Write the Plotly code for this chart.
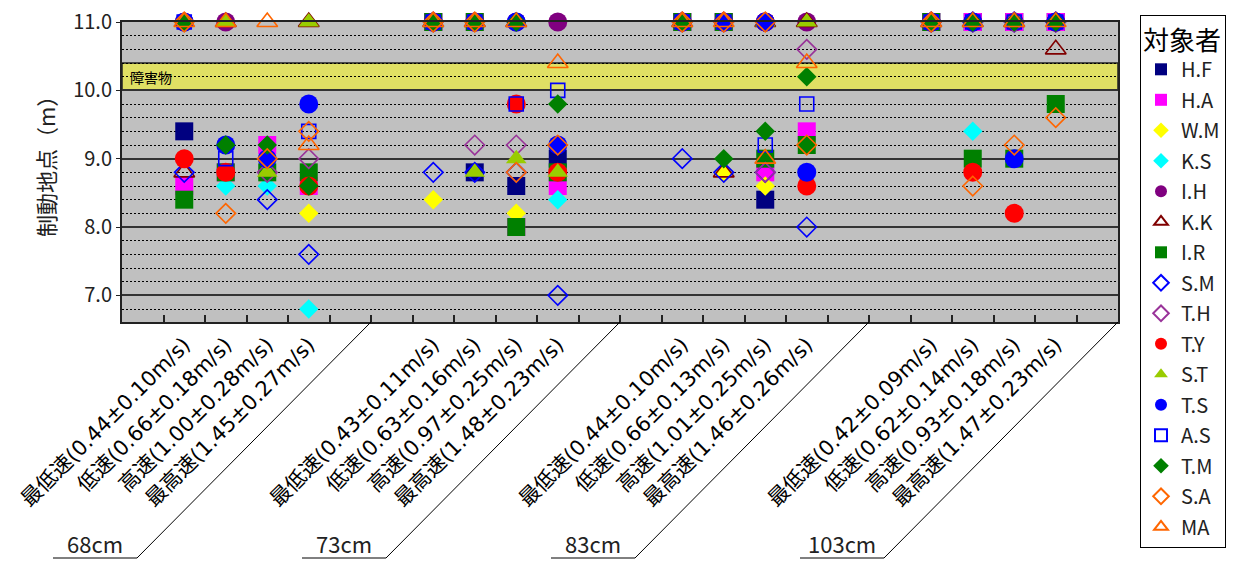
import plotly.graph_objects as go

# ---------------- data ----------------
groups = ["68cm", "73cm", "83cm", "103cm"]
speed_labels = [
    "最低速(0.44±0.10m/s)", "低速(0.66±0.18m/s)", "高速(1.00±0.28m/s)", "最高速(1.45±0.27m/s)",
    "最低速(0.43±0.11m/s)", "低速(0.63±0.16m/s)", "高速(0.97±0.25m/s)", "最高速(1.48±0.23m/s)",
    "最低速(0.44±0.10m/s)", "低速(0.66±0.13m/s)", "高速(1.01±0.25m/s)", "最高速(1.46±0.26m/s)",
    "最低速(0.42±0.09m/s)", "低速(0.62±0.14m/s)", "高速(0.93±0.18m/s)", "最高速(1.47±0.23m/s)",
]
N = None
HF = [9.4, N, N, N, 11, 8.8, 8.6, 9.0, 11, 11, 8.4, N, 11, 11, 11, 11]
HA = [8.6, 8.8, 9.2, 8.6, 11, 11, 8.0, 8.6, 11, 11, 8.8, 9.4, 11, 11, 11, 11]
WM = [11, N, N, 8.2, 8.4, 11, 8.2, N, 11, 8.8, 8.6, N, 11, 11, 11, 11]
KS = [11, 8.6, 8.6, 6.8, 11, 11, 11, 8.4, 11, 11, 11, N, 11, 9.4, 11, 11]
IH = [11, 11, N, N, 11, 11, 11, 11, 11, 11, 11, 11, 11, 11, 11, 11]
KK = [8.8, 11, N, 11, 11, 11, 11, N, 11, 8.8, 11, 11, 11, 11, 11, 10.6]
IR = [8.4, 8.8, 8.8, 8.8, 11, 11, 8.0, 8.8, 11, 11, 9.0, 9.2, 11, 9.0, 9.0, 9.8]
SM = [8.8, N, 8.4, 7.6, 8.8, 8.8, 8.8, 7.0, 9.0, 8.8, 8.8, 8.0, 11, 11, 11, 11]
TH = [N, N, 8.8, 9.0, 11, 9.2, 9.2, N, 11, 11, 8.8, 10.6, 11, 11, 11, 11]
TY = [9.0, 8.8, N, 8.6, 11, 11, 9.8, 8.8, 11, 11, 11, 8.6, 11, 8.8, 8.2, 11]
ST = [N, 11, 8.8, 11, 11, 8.8, 9.0, 8.8, 11, 11, 11, 11, 11, 11, 11, 11]
TS = [11, 9.2, 9.0, 9.8, 11, 11, 11, 9.2, 11, 11, 11, 8.8, 11, 11, 9.0, 11]
AS = [11, 9.0, N, 9.4, 11, 11, 9.8, 10.0, 11, 11, 9.2, 9.8, 11, 11, 11, 11]
TM = [11, 9.2, 9.2, 8.6, 11, 11, 11, 9.8, 11, 9.0, 9.4, 10.2, 11, 11, 11, 11]
SA = [11, 8.2, 9.0, 9.4, 11, 11, 8.8, 9.2, 11, 11, 11, 9.2, 11, 8.6, 9.2, 9.6]
MA = [11, 11, 11, 9.2, 11, 11, 11, 10.4, 11, 11, 9.0, 10.4, 11, 11, 11, 11]

subject_names = ["H.F", "H.A", "W.M", "K.S", "I.H", "K.K", "I.R", "S.M",
                 "T.H", "T.Y", "S.T", "T.S", "A.S", "T.M", "S.A", "MA"]
subject_values = [HF, HA, WM, KS, IH, KK, IR, SM, TH, TY, ST, TS, AS, TM, SA, MA]

y_ticks = [7.0, 8.0, 9.0, 10.0, 11.0]
obstacle = (10.0, 10.4)

# ---------------- styles ----------------
styles = {
    "H.F": ("square", "#000080", 18),
    "H.A": ("square", "#FF00FF", 18),
    "W.M": ("diamond", "#FFFF00", 15),
    "K.S": ("diamond", "#00FFFF", 15),
    "I.H": ("circle", "#800080", 19),
    "K.K": ("triangle-up-open", "#800000", 18),
    "I.R": ("square", "#008000", 18),
    "S.M": ("diamond-open", "#0000FF", 15),
    "T.H": ("diamond-open", "#993399", 15),
    "T.Y": ("circle", "#FF0000", 19),
    "S.T": ("triangle-up", "#99CC00", 18),
    "T.S": ("circle", "#0000FF", 19),
    "A.S": ("square-open", "#0000FF", 14),
    "T.M": ("diamond", "#008000", 15),
    "S.A": ("diamond-open", "#FF6600", 15),
    "MA": ("triangle-up-open", "#FF6600", 18),
}

FONT = "Noto Sans CJK JP"
LABFONT = "DejaVu Sans, Noto Sans CJK JP"

# slot positions: 24 category slots, 4 groups of 6, data in slots 1..4 of each group
slots = [6 * g + 1 + s for g in range(len(groups)) for s in range(4)]

fig = go.Figure()
for name, vals in zip(subject_names, subject_values):
    sym, col, size = styles[name]
    xs = [slots[i] for i, v in enumerate(vals) if v is not None]
    ys = [v for v in vals if v is not None]
    fig.add_trace(go.Scatter(
        x=xs, y=ys, mode="markers", name=name, legendgroup=name, cliponaxis=False,
        marker=dict(symbol=sym, color=col, size=size,
                    line=dict(width=1.6 if "open" in sym else 0, color=col)),
    ))

L, R, T, B = 122, 124, 22, 243
W, H = 1242, 565
pw, ph = W - L - R, H - T - B

def px2x(px):
    return (px - L) / pw

def px2y(py):
    return (H - B - py) / ph

shapes = [
    dict(type="rect", xref="paper", yref="y", x0=0, x1=1, y0=obstacle[0], y1=obstacle[1],
         fillcolor="#E0E064", line=dict(color="#222", width=1.5), layer="below"),
]
annotations = [
    dict(text="障害物", xref="paper", yref="y", x=0.006, y=10.2, xanchor="left",
         yanchor="middle", showarrow=False, font=dict(family=FONT, size=14, color="black")),
    dict(text="制動地点（m）", xref="paper", yref="paper", x=px2x(45), y=px2y(161),
         xanchor="center", yanchor="middle", textangle=-90, showarrow=False,
         font=dict(family=FONT, size=22, color="#222")),
]
for g, lab in enumerate(groups):
    off = 6 * g * pw / 24
    x_h0, x_h1 = 53 + off, 137 + off
    x_top = L + 6 * (g + 1) * pw / 24
    shapes.append(dict(type="line", xref="paper", yref="paper",
                       x0=px2x(x_h0), x1=px2x(x_h1), y0=px2y(558), y1=px2y(558),
                       line=dict(color="black", width=1)))
    shapes.append(dict(type="line", xref="paper", yref="paper",
                       x0=px2x(x_h1), x1=px2x(x_top), y0=px2y(558), y1=px2y(322),
                       line=dict(color="black", width=1)))
    annotations.append(dict(text=lab, xref="paper", yref="paper",
                            x=px2x((x_h0 + x_h1) / 2), y=px2y(543),
                            xanchor="center", yanchor="middle", showarrow=False,
                            font=dict(family=FONT, size=22, color="#222")))

fig.update_layout(
    width=W, height=H,
    margin=dict(l=L, r=R, t=T, b=B, autoexpand=False),
    paper_bgcolor="white", plot_bgcolor="#C0C0C0",
    font=dict(family=FONT, color="#222"),
    showlegend=True,
    legend=dict(
        title=dict(text="対象者", font=dict(family=FONT, size=26, color="black")),
        x=px2x(1140), y=px2y(15), xanchor="left", yanchor="top",
        bordercolor="black", borderwidth=1, bgcolor="white",
        font=dict(family=FONT, size=20, color="#222"),
        itemsizing="constant", traceorder="grouped", tracegroupgap=1.5, maxheight=545,
    ),
    shapes=shapes, annotations=annotations,
    xaxis=dict(
        range=[-0.5, 23.5], tickmode="array", tickvals=slots, ticktext=speed_labels,
        tickangle=-45, ticks="", showgrid=False, zeroline=False,
        showline=True, linecolor="#222", linewidth=2, mirror=True,
        tickfont=dict(family=LABFONT, size=21, color="black"),
        minor=dict(tickmode="array", tickvals=[i + 0.5 for i in range(23)],
                   ticks="inside", ticklen=7, tickcolor="#222", tickwidth=1.5, showgrid=False),
        automargin=False,
    ),
    yaxis=dict(
        range=[6.61, 11.0], tickmode="array", tickvals=y_ticks,
        ticktext=[f"{v:.1f}" for v in y_ticks],
        ticks="outside", ticklen=4, tickcolor="#222",
        showgrid=True, gridcolor="#333", gridwidth=2, zeroline=False,
        showline=True, linecolor="#222", linewidth=2, mirror=True,
        tickfont=dict(family=FONT, size=20, color="#222"),
        minor=dict(tick0=0, dtick=0.2, showgrid=True, gridcolor="black", gridwidth=1,
                   griddash="2px,2px", ticks=""),
        automargin=False,
    ),
)

fig.write_html("out.html")
